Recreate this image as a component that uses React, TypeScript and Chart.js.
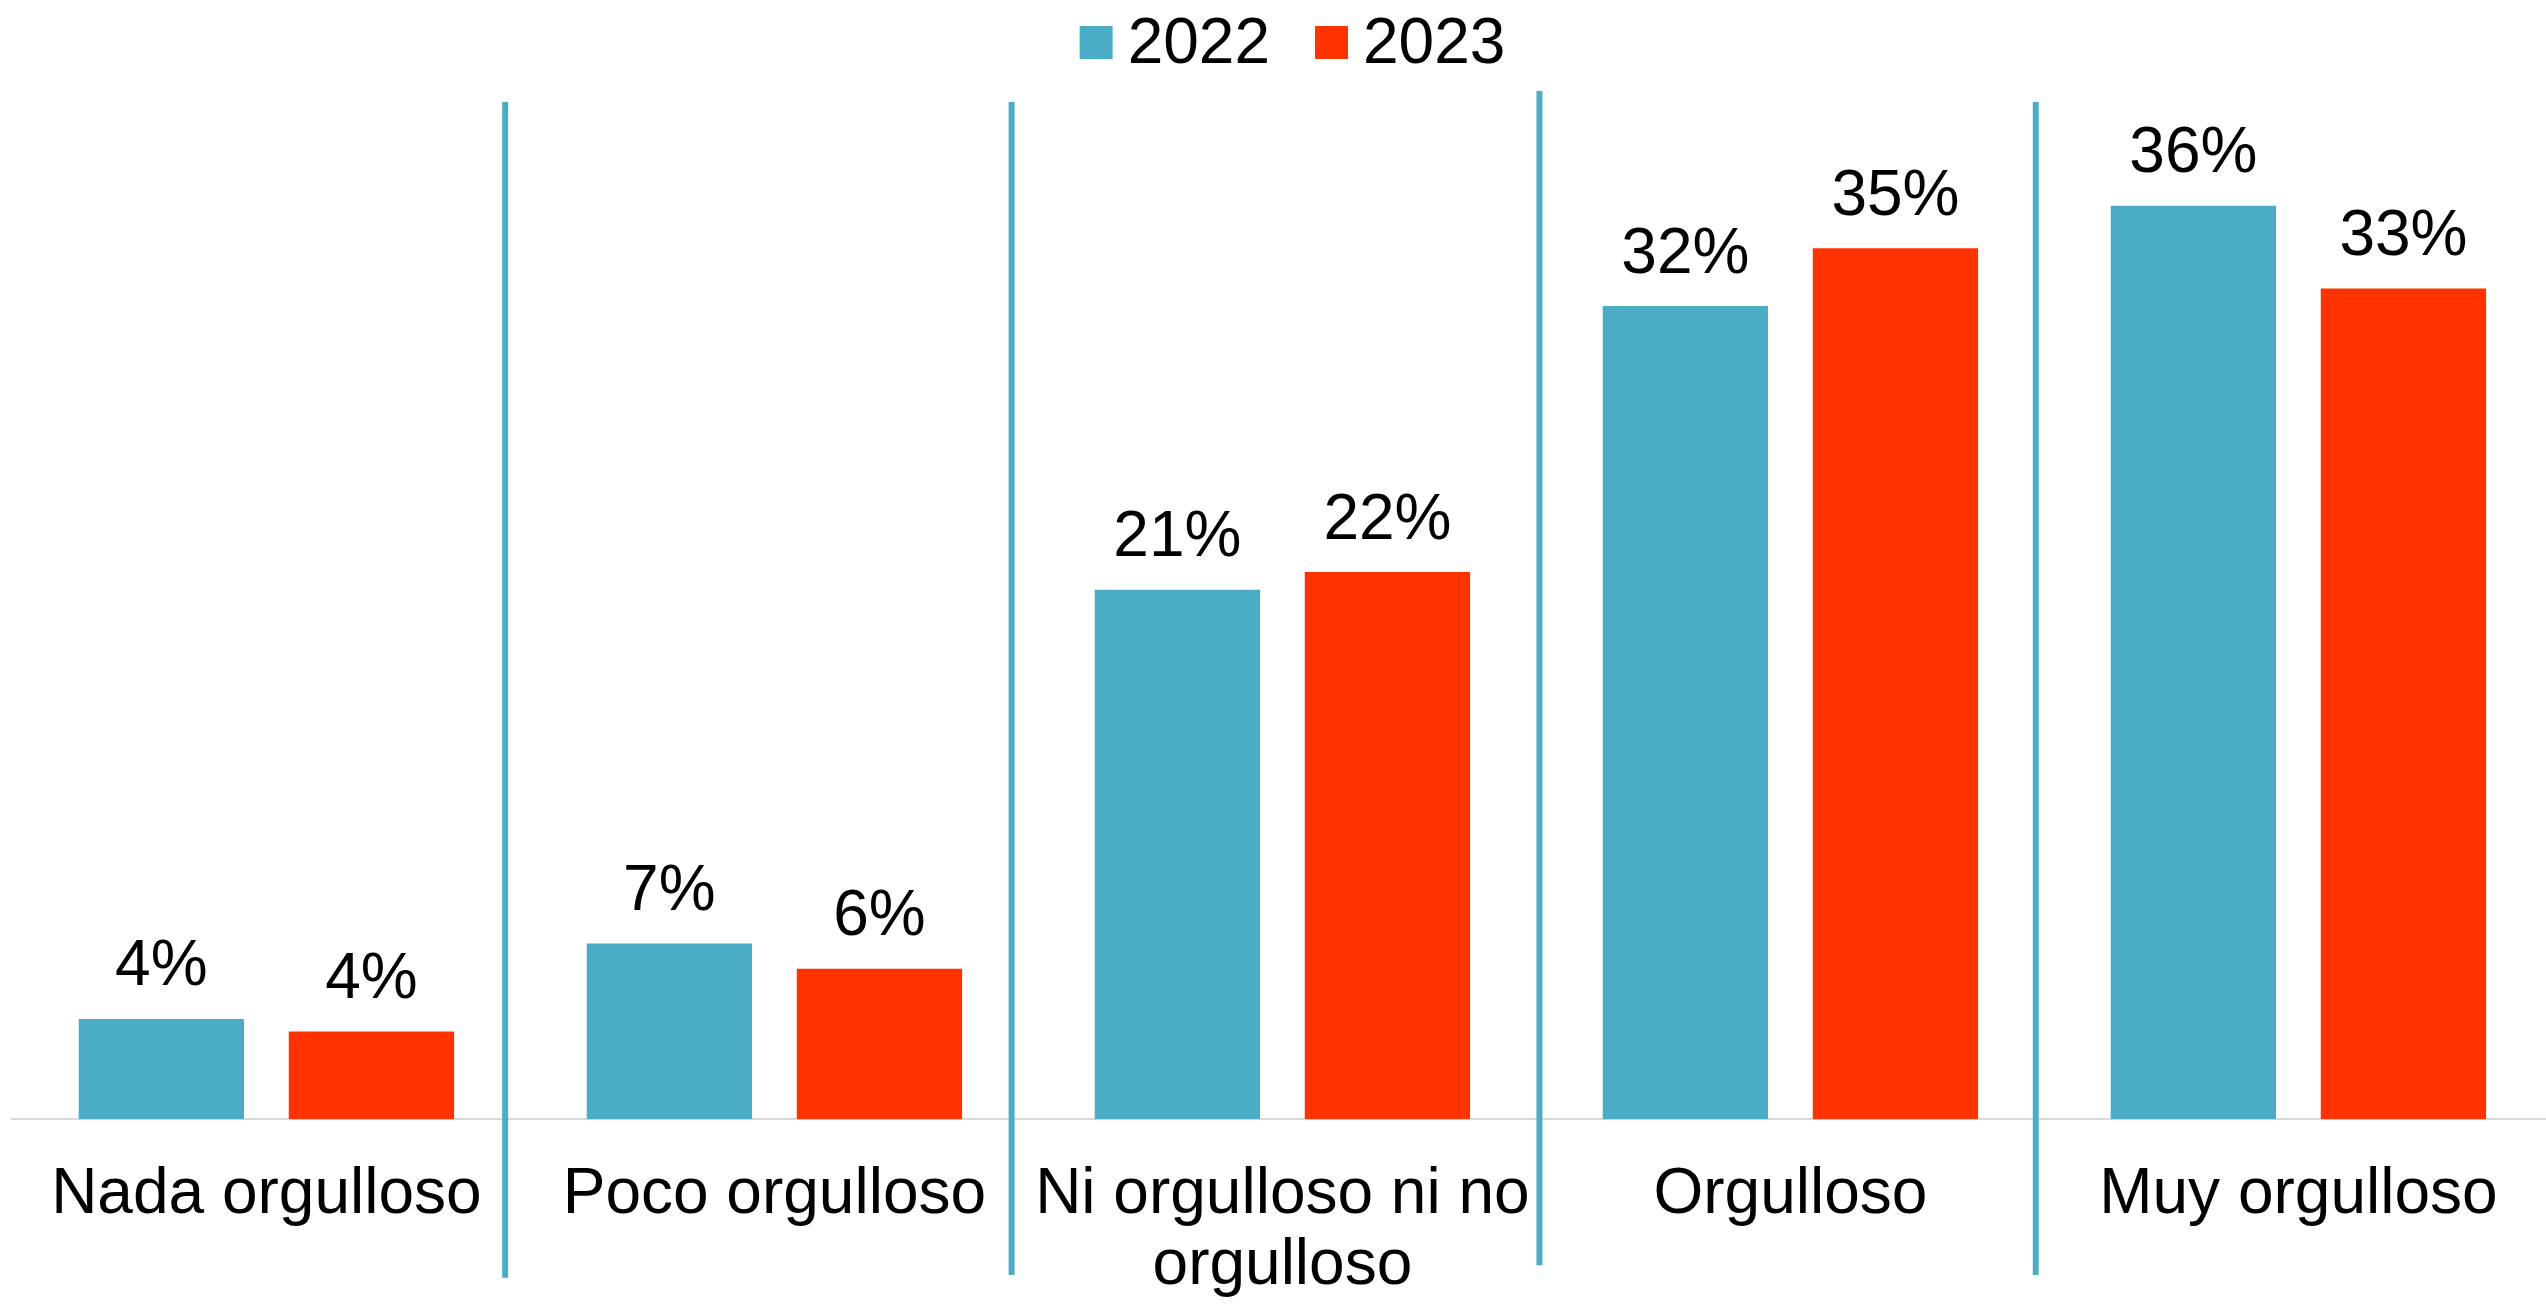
import React, { useEffect, useRef } from "react";
import { Chart, registerables } from "chart.js";

Chart.register(...registerables);

const categories: (string | string[])[] = [
  "Nada orgulloso",
  "Poco orgulloso",
  ["Ni orgulloso ni no", "orgulloso"],
  "Orgulloso",
  "Muy orgulloso",
];
const seriesNames = ["2022", "2023"];
const values2022 = [4.0, 7.0, 21.1, 32.4, 36.4];
const values2023 = [3.5, 6.0, 21.8, 34.7, 33.1];
const colors = ["#4BACC6", "#FF3300"];

// decorative separators in data units (category index, value range)
const separatorX = [0.47, 1.467, 2.506, 3.483];
const separatorTop = [40.53, 40.53, 40.97, 40.53];
const separatorBottom = [-6.31, -6.2, -5.81, -6.2];

const FONT = "'Liberation Sans', Arial, Helvetica, sans-serif";
const FS = 64;

const valueLabelPlugin = {
  id: "valueLabels",
  afterDatasetsDraw(chart: any) {
    const ctx = chart.ctx;
    ctx.save();
    ctx.font = `${FS}px ${FONT}`;
    ctx.fillStyle = "#000";
    ctx.textAlign = "center";
    ctx.textBaseline = "alphabetic";
    chart.data.datasets.forEach((ds: any, di: number) => {
      const meta = chart.getDatasetMeta(di);
      meta.data.forEach((bar: any, i: number) => {
        const v = ds.data[i];
        ctx.fillText(Math.round(v) + "%", bar.x, bar.y - 33.5);
      });
    });
    ctx.restore();
  },
};

const separatorPlugin = {
  id: "separators",
  afterDraw(chart: any) {
    const ctx = chart.ctx;
    const xs = chart.scales.x;
    const ys = chart.scales.y;
    ctx.save();
    ctx.strokeStyle = colors[0];
    ctx.lineWidth = 6;
    separatorX.forEach((sx, i) => {
      const px = xs.getPixelForValue(sx);
      ctx.beginPath();
      ctx.moveTo(px, ys.getPixelForValue(separatorTop[i]));
      ctx.lineTo(px, ys.getPixelForValue(separatorBottom[i]));
      ctx.stroke();
    });
    ctx.restore();
  },
};

const legendPlugin = {
  id: "customLegend",
  afterDraw(chart: any) {
    const ctx = chart.ctx;
    ctx.save();
    ctx.font = `${FS}px ${FONT}`;
    const box = 33;
    const gapText = 15;
    const gapItem = 45;
    const items = chart.data.datasets.map((ds: any) => ({
      label: ds.label,
      color: ds.backgroundColor,
      w: ctx.measureText(ds.label).width,
    }));
    let total = 0;
    items.forEach((it: any, i: number) => {
      total += box + gapText + it.w + (i < items.length - 1 ? gapItem : 0);
    });
    let x = chart.width / 2 - total / 2;
    ctx.textBaseline = "alphabetic";
    ctx.textAlign = "left";
    items.forEach((it: any) => {
      ctx.fillStyle = it.color;
      ctx.fillRect(x, 26, box, box);
      ctx.fillStyle = "#000";
      ctx.fillText(it.label, x + box + gapText, 63.3);
      x += box + gapText + it.w + gapItem;
    });
    ctx.restore();
  },
};

export default function App() {
  const ref = useRef<HTMLCanvasElement | null>(null);

  useEffect(() => {
    document.body.style.margin = "0";
    const canvas = ref.current;
    if (!canvas) return;
    const chart = new Chart(canvas, {
      type: "bar",
      data: {
        labels: categories,
        datasets: [
          { label: seriesNames[0], data: values2022, backgroundColor: colors[0] },
          { label: seriesNames[1], data: values2023, backgroundColor: colors[1] },
        ],
      },
      options: {
        responsive: false,
        animation: false,
        devicePixelRatio: 1,
        layout: { padding: { top: 115.3, left: 12.4, right: 32.6, bottom: 0 } },
        datasets: { bar: { categoryPercentage: 0.827, barPercentage: 0.787 } },
        plugins: { legend: { display: false }, tooltip: { enabled: false } },
        scales: {
          x: {
            grid: { display: false, drawTicks: false },
            border: { display: true, color: "#D9D9D9", width: 2 },
            ticks: {
              color: "#000",
              font: { family: FONT, size: FS, lineHeight: 1.12 },
              padding: 40,
              maxRotation: 0,
              autoSkip: false,
            },
            afterFit: (axis: any) => {
              axis.height = 184.7;
            },
          },
          y: { display: false, min: 0, max: 40 },
        },
      },
      plugins: [valueLabelPlugin, separatorPlugin, legendPlugin],
    } as any);
    return () => chart.destroy();
  }, []);

  return (
    <div
      style={{
        position: "fixed",
        left: 0,
        top: 0,
        width: 2546,
        height: 1304,
        overflow: "hidden",
        background: "#fff",
      }}
    >
      <canvas ref={ref} width={2585} height={1304} style={{ display: "block" }} />
    </div>
  );
}
